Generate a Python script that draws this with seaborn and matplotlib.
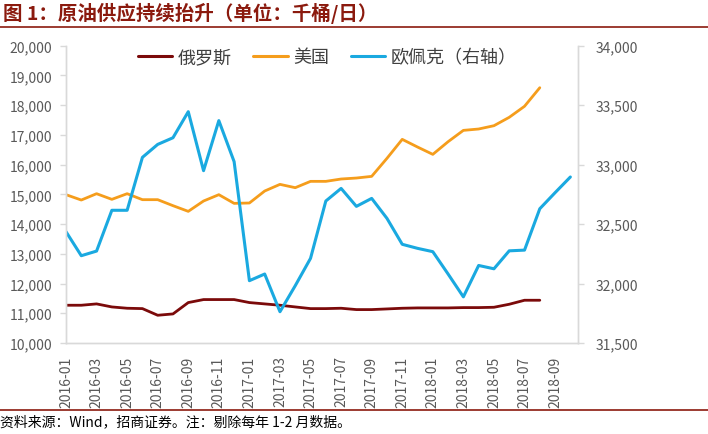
import numpy as np
import matplotlib
matplotlib.use("Agg")
import matplotlib.pyplot as plt
import seaborn as sns
from matplotlib.lines import Line2D
from matplotlib.ticker import FuncFormatter, MultipleLocator

# months 2016-01 .. 2018-10
months = [f"{y}-{m:02d}" for y in (2016, 2017, 2018) for m in range(1, 13)][:34]

# thousand barrels / day
russia = [11270, 11270, 11315, 11213, 11169, 11157, 10933, 10978, 11360, 11461,
          11461, 11461, 11360, 11315, 11270, 11213, 11157, 11157, 11169, 11124,
          11124, 11146, 11169, 11180, 11180, 11180, 11191, 11191, 11202, 11303,
          11438, 11438]
usa = [14989, 14809, 15022, 14832, 15022, 14821, 14821, 14619, 14428, 14776,
       14989, 14697, 14709, 15112, 15336, 15224, 15437, 15437, 15516, 15549,
       15605, 16211, 16850, 16592, 16345, 16771, 17152, 17198, 17309, 17591,
       17962, 18587]
opec = [32436, 32234, 32273, 32616, 32616, 33061, 33170, 33226, 33445, 32949,
        33370, 33025, 32024, 32080, 31763, 31982, 32212, 32694, 32800, 32649,
        32716, 32548, 32330, 32296, 32268, 32080, 31888, 32152, 32124, 32275,
        32281, 32629, 32764, 32896]

series_names = ["俄罗斯", "美国", "欧佩克（右轴）"]
colors = ["#7B0A0A", "#F59D1C", "#1AA9E0"]

sns.set_style("white")
plt.rcParams["font.family"] = ["Noto Sans CJK SC", "DejaVu Sans"]

fig = plt.figure(figsize=(7.08, 4.35), dpi=100)
ax = fig.add_axes([66 / 708, 1 - 344 / 435, 512 / 708, 297.3 / 435])
ax2 = ax.twinx()

sns.lineplot(x=np.arange(len(russia)), y=russia, ax=ax, color=colors[0], linewidth=2.0)
sns.lineplot(x=np.arange(len(usa)), y=usa, ax=ax, color=colors[1], linewidth=2.0)
sns.lineplot(x=np.arange(len(opec)), y=opec, ax=ax2, color=colors[2], linewidth=2.2)

ax.set_xlim(0, 33.5)
ax.set_ylim(10000, 20000)
ax2.set_ylim(31500, 34000)
ax.yaxis.set_major_locator(MultipleLocator(1000))
ax2.yaxis.set_major_locator(MultipleLocator(500))
fmt = FuncFormatter(lambda v, p: f"{v:,.0f}")
ax.yaxis.set_major_formatter(fmt)
ax2.yaxis.set_major_formatter(fmt)

ticks = np.arange(0, len(months), 2)
ax.set_xticks(ticks)
ax.set_xticklabels([months[i] for i in ticks], rotation=90)

grey = "#D9D9D9"
for a in (ax, ax2):
    a.spines["top"].set_visible(False)
    for side in ("left", "right", "bottom"):
        a.spines[side].set_color(grey)
        a.spines[side].set_linewidth(1.0)
    a.tick_params(axis="both", colors="#595959", labelsize=10, length=4,
                  width=1, direction="out", pad=6)
    a.tick_params(axis="both", color=grey)
    a.grid(False)
ax.tick_params(axis="x", pad=5)
ax2.tick_params(axis="y", pad=9)
ax.set_xlabel("")
ax.set_ylabel("")
ax2.set_ylabel("")

handles = [Line2D([], [], color=c, linewidth=2.2) for c in colors]
ax.legend(handles, series_names, loc="center", bbox_to_anchor=(0.51, 0.962),
          ncol=3, frameon=False, fontsize=13, handlelength=1.9,
          handletextpad=0.3, columnspacing=1.2, labelcolor="#404040")

title_color = "#8B1A0E"
fig.text(0.004, 1 - 13 / 435, "图 1：原油供应持续抬升（单位：千桶/日）",
         fontsize=14, fontweight="bold", color=title_color, va="center", ha="left")
fig.add_artist(Line2D([0, 1], [1 - 27.5 / 435] * 2, color=title_color, linewidth=1.2))
fig.add_artist(Line2D([0, 1], [1 - 410.7 / 435] * 2, color=title_color, linewidth=1.2))
fig.text(0.0, 1 - 422 / 435, "资料来源：Wind，招商证券。注：剔除每年 1-2 月数据。",
         fontsize=10, color="black", va="center", ha="left")

fig.savefig("out.png", dpi=100)
